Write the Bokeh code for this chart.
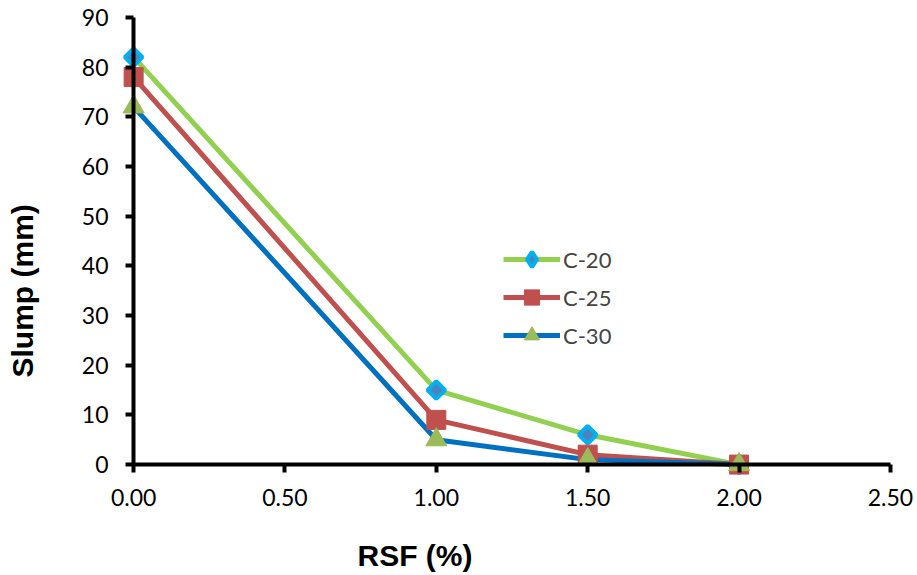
import math
from bokeh.plotting import figure
from bokeh.models import (Range1d, FixedTicker, Legend, LegendItem, LinearAxis,
                          CustomJSTickFormatter, Title)
from bokeh.embed import file_html
from bokeh.resources import INLINE

# ---- data ----
rsf = [0.0, 1.0, 1.5, 2.0]
c20 = [82, 15, 6, 0]
c25 = [78, 9, 2, 0]
c30 = [72, 5, 1, 0]
series_names = ["C-20", "C-25", "C-30"]
x_ticks = [0.0, 0.5, 1.0, 1.5, 2.0, 2.5]
y_ticks = [0, 10, 20, 30, 40, 50, 60, 70, 80, 90]
x_title = "RSF (%)"
y_title = "Slump (mm)"

p = figure(frame_width=787, frame_height=472,
           min_border_left=118, min_border_right=12,
           min_border_top=7, min_border_bottom=96,
           x_range=Range1d(-0.05, 2.55), y_range=Range1d(-3, 92),
           output_backend="svg", toolbar_location=None)
p.outline_line_color = None
p.xgrid.visible = False
p.ygrid.visible = False

fmt2 = CustomJSTickFormatter(code="return tick.toFixed(2);")

# label-only axes at the frame edges
xl = p.xaxis[0]
yl = p.yaxis[0]
for ax, ticks in ((xl, x_ticks), (yl, y_ticks)):
    ax.ticker = FixedTicker(ticks=ticks)
    ax.axis_line_color = None
    ax.major_tick_line_color = None
    ax.minor_tick_line_color = None
    ax.major_tick_out = 0
    ax.major_tick_in = 0
    ax.major_label_text_font = "Lato"
    ax.major_label_text_font_size = "23px"
    ax.major_label_text_color = "black"
xl.formatter = fmt2
xl.major_label_standoff = 9
yl.major_label_standoff = 10

# spacer axes (blank labels) that push the titles outwards
blank = CustomJSTickFormatter(code="return ' ';")
def spacer_axis(gap):
    a = LinearAxis(ticker=FixedTicker(ticks=[0]), formatter=blank)
    a.axis_line_color = None
    a.major_tick_line_color = None
    a.minor_tick_line_color = None
    a.major_tick_out = 0
    a.major_tick_in = 0
    a.major_label_standoff = gap
    a.major_label_text_font_size = "1px"
    a.major_label_text_color = "black"
    return a

p.add_layout(spacer_axis(24), "below")
p.add_layout(spacer_axis(37), "left")

p.add_layout(Title(text=x_title, align="left", offset=239, standoff=0,
                   text_color="black",
                   text_font="Liberation Sans", text_font_style="bold",
                   text_font_size="30px"), "below")
p.add_layout(Title(text=y_title, align="left", offset=102, standoff=0,
                   text_color="black",
                   text_font="Liberation Sans", text_font_style="bold",
                   text_font_size="30px"), "left")

# line + tick axes drawn through the origin (ticks pointing outwards)
def line_axis(ticks, bounds):
    a = LinearAxis(ticker=FixedTicker(ticks=ticks), fixed_location=0, bounds=bounds)
    a.axis_line_width = 4
    a.axis_line_color = "black"
    a.major_tick_line_width = 4
    a.major_tick_line_color = "black"
    a.major_tick_out = 0
    a.major_tick_in = 8
    a.minor_tick_line_color = None
    a.major_label_text_color = None
    a.major_label_text_font_size = "1px"
    a.major_label_standoff = 0
    return a

p.add_layout(line_axis(x_ticks, (0, 2.5)), "above")
p.add_layout(line_axis(y_ticks, (0, 90)), "right")

l20 = p.line(rsf, c20, line_color="#92D050", line_width=5)
l25 = p.line(rsf, c25, line_color="#C0504D", line_width=5)
l30 = p.line(rsf, c30, line_color="#0070C0", line_width=5)

# diamond used for the legend; hidden under the rotated square in the plot
d20 = p.scatter(rsf, c20, marker="diamond", size=14,
                fill_color="#4F81BD", line_color="#00B0F0", line_width=4)
m20 = p.scatter(rsf, c20, marker="square", angle=math.pi / 4, size=12.5,
                fill_color="#4F81BD", line_color="#00B0F0", line_width=4)
m25 = p.scatter(rsf, c25, marker="square", size=19,
                fill_color="#C0504D", line_color="#C0504D", line_width=1)
m30 = p.scatter(rsf, c30, marker="triangle", size=21,
                fill_color="#9BBB59", line_color="#9BBB59", line_width=1)

legend = Legend(items=[
    LegendItem(label=series_names[0], renderers=[l20, d20]),
    LegendItem(label=series_names[1], renderers=[l25, m25]),
    LegendItem(label=series_names[2], renderers=[l30, m30]),
], location=(385, 125))
legend.padding = 0
legend.margin = 0
legend.spacing = 0
legend.glyph_width = 57
legend.glyph_height = 38
legend.label_standoff = 3
legend.label_text_font = "Lato"
legend.label_text_font_size = "22px"
legend.label_text_baseline = "middle"
legend.border_line_color = None
legend.background_fill_alpha = 0
p.add_layout(legend, "center")

open("out.html", "w").write(file_html(p, INLINE))
